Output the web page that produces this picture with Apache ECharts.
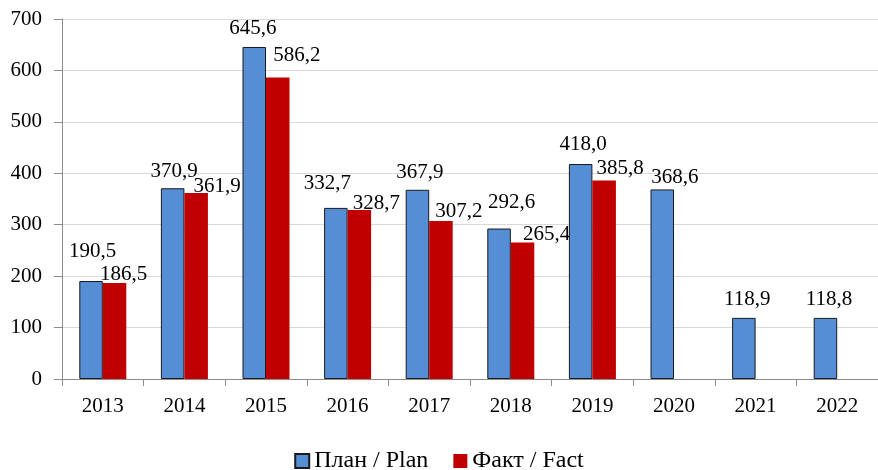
<!DOCTYPE html>
<html>
<head>
<meta charset="utf-8">
<script src="https://cdn.jsdelivr.net/npm/echarts@6/dist/echarts.min.js"></script>
<style>html,body{margin:0;padding:0;background:#fff}#c{width:878px;height:470px}</style>
</head>
<body>
<div id="c"></div>
<script>
var categories = ['2013','2014','2015','2016','2017','2018','2019','2020','2021','2022'];
var planValues = [190.5, 370.9, 645.6, 332.7, 367.9, 292.6, 418.0, 368.6, 118.9, 118.8];
var factValues = [186.5, 361.9, 586.2, 328.7, 307.2, 265.4, 385.8, null, null, null];
var yTicks = [0, 100, 200, 300, 400, 500, 600, 700];
var seriesNames = ['План / Plan', 'Факт / Fact'];

// label nudges (styling only)
var planLabelShift = [[1.5,-14],[1.5,-1],[-1.5,-3],[-8.5,-9],[2.5,-2],[12.5,-10.5],[2.5,-4],[12.5,3.5],[3.5,-3],[3.5,-3]];
var factLabelShift = [[9,7],[21,9],[19,-6.5],[17,9],[18,6],[24,7.5],[16,3.5],[0,0],[0,0],[0,0]];

var FONT = '"Liberation Serif", "Times New Roman", serif';
function fmt(v){ return v.toFixed(1).replace('.', ','); }
function build(vals, shifts){
  return vals.map(function(v,i){
    if (v === null) return '-';
    return { value: v, label: { offset: shifts[i] } };
  });
}

var chart = echarts.init(document.getElementById('c'));
chart.setOption({
  animation: false,
  textStyle: { fontFamily: FONT },
  grid: { left: 62, right: -4, top: 19, bottom: 91 },
  legend: {
    top: 449, left: 'center', padding: 0,
    itemWidth: 14, itemHeight: 14, itemGap: 25,
    icon: 'rect',
    textStyle: { fontFamily: FONT, fontSize: 24, color: '#000', lineHeight: 24 },
    data: seriesNames
  },
  xAxis: {
    type: 'category', data: categories,
    axisLine: { lineStyle: { color: '#8c8c8c', width: 1 } },
    axisTick: { show: true, length: 7, lineStyle: { color: '#8c8c8c' } },
    axisLabel: { fontFamily: FONT, fontSize: 21, color: '#000', margin: 17 }
  },
  yAxis: {
    type: 'value', min: yTicks[0], max: yTicks[yTicks.length-1], interval: 100,
    axisLine: { show: true, lineStyle: { color: '#8c8c8c', width: 1 } },
    axisTick: { show: true, length: 8, lineStyle: { color: '#8c8c8c' } },
    splitLine: { show: true, lineStyle: { color: '#d9d9d9', width: 1 } },
    axisLabel: { fontFamily: FONT, fontSize: 21, color: '#000', margin: 20 }
  },
  series: [
    {
      name: seriesNames[0], type: 'bar', barWidth: 23.5, barGap: '0%',
      data: build(planValues, planLabelShift),
      itemStyle: { color: '#558ED5', borderColor: '#1a1a1a', borderWidth: 1 },
      label: { show: true, position: 'top', fontFamily: FONT, fontSize: 21, color: '#000',
               formatter: function(p){ return fmt(p.value); } }
    },
    {
      name: seriesNames[1], type: 'bar', barWidth: 23.5, barGap: '0%',
      data: build(factValues, factLabelShift),
      itemStyle: { color: '#C00000' },
      label: { show: true, position: 'top', fontFamily: FONT, fontSize: 21, color: '#000',
               formatter: function(p){ return fmt(p.value); } }
    }
  ]
});
</script>
</body>
</html>
